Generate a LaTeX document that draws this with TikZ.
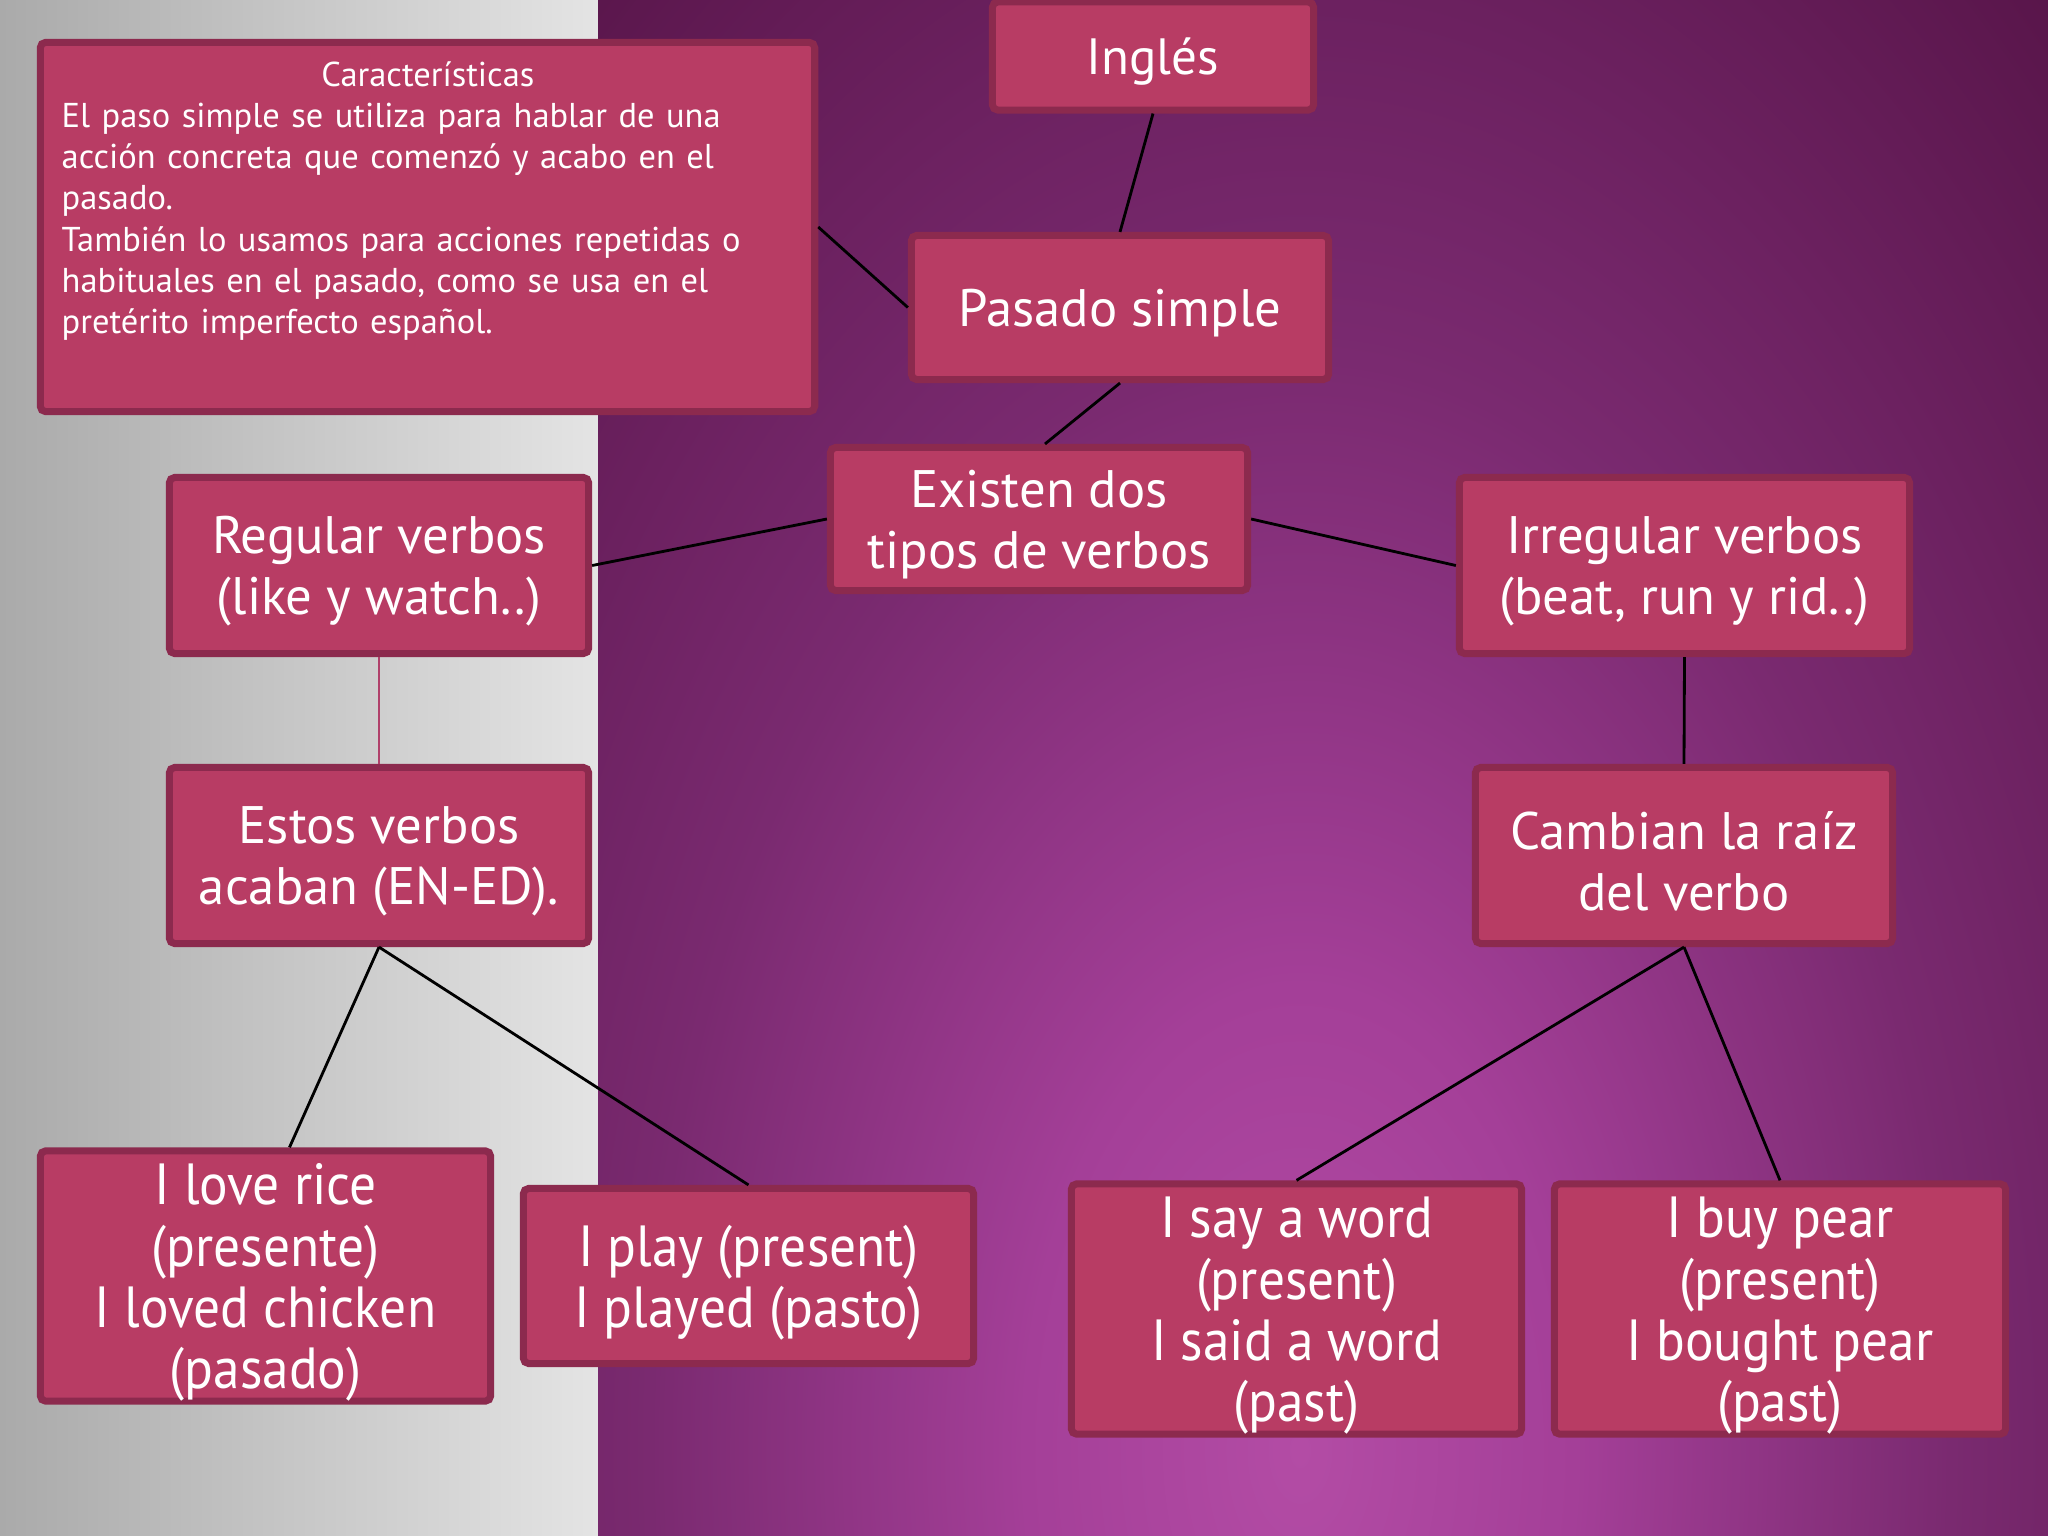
\documentclass[tikz,border=0pt]{standalone}
\usepackage{fontspec}
\setmainfont{PT Sans}
\newfontfamily\narrowf{PT Sans}[FakeStretch=0.92]
\usetikzlibrary{calc}
\newcommand\topstrut{\rule{0pt}{0.93em}}
\definecolor{boxfill}{HTML}{B83C64}
\definecolor{boxline}{HTML}{8C2A4E}
\definecolor{pl}{HTML}{B34CA5}
\definecolor{pl2}{HTML}{A43F98}
\definecolor{pm}{HTML}{7A2A70}
\definecolor{pd}{HTML}{551346}
\definecolor{pdd}{HTML}{440B37}
\definecolor{gl}{HTML}{AAAAAA}
\definecolor{gr}{HTML}{E4E4E4}
\definecolor{pinkline}{HTML}{B0406A}
\pgfdeclareradialshading{purpbg}{\pgfpoint{0bp}{0bp}}{color(0bp)=(pl); color(5.5bp)=(pl2); color(13bp)=(pm); color(24bp)=(pd); color(35bp)=(pdd); color(50bp)=(pdd)}
\tikzset{
  box/.style={draw=boxline, fill=boxfill, line width=2pt, rounded corners=1.5pt,
    inner sep=0pt, text=white, align=center, font=\fontsize{15}{17.4}\selectfont},
  nbox/.style={box, font=\narrowf\fontsize{16.5}{17.4}\selectfont},
  conn/.style={draw=black, line width=0.8pt},
  pconn/.style={draw=pinkline, line width=0.8pt}
}
\begin{document}
\begin{tikzpicture}[x=0.01cm,y=-0.01cm]
\useasboundingbox (0,0) rectangle (2048,1536);
% background
\shade[left color=gl, right color=gr] (0,0) rectangle (598,1536);
\begin{scope}
  \clip (598,0) rectangle (2048,1536);
  \fill[pdd] (598,0) rectangle (2048,1536);
  \shade[shading=purpbg] (1300,1450) ellipse[x radius=12.5cm, y radius=21cm];
\end{scope}

% nodes
\node[box, minimum width=7.74cm, minimum height=3.69cm] (carac) at (427.5,227) {};
\node[anchor=north west, text width=7.32cm, inner sep=0pt, align=left, text=white,
  font=\fontsize{9.8}{11.7}\selectfont] (caractext) at (61,61)
  {\makebox[7.32cm]{Características}\\
   El paso simple se utiliza para hablar de una\\
   acción concreta que comenzó y acabo en el\\
   pasado.\\
   También lo usamos para acciones repetidas o\\
   habituales en el pasado, como se usa en el\\
   pretérito imperfecto español.};

\node[box, minimum width=3.21cm, minimum height=1.08cm, font=\fontsize{14.5}{18}\selectfont] (ingles) at (1153,56) {\topstrut Inglés};
\node[box, minimum width=4.17cm, minimum height=1.44cm, font=\fontsize{15}{18}\selectfont] (pasado) at (1120,307.5) {\topstrut Pasado simple};
\node[box, minimum width=4.17cm, minimum height=1.43cm] (existen) at (1039,519) {\topstrut Existen dos\\tipos de verbos};
\node[box, minimum width=4.19cm, minimum height=1.76cm] (regular) at (379,565.5) {\topstrut Regular verbos\\(like y watch..)};
\node[box, minimum width=4.50cm, minimum height=1.76cm] (irregular) at (1684.5,565.5) {\topstrut Irregular verbos\\(beat, run y rid..)};
\node[box, minimum width=4.19cm, minimum height=1.76cm] (estos) at (379,855.5) {\topstrut Estos verbos\\acaban (EN-ED).};
\node[box, minimum width=4.17cm, minimum height=1.76cm] (cambian) at (1684,855.5) {\topstrut Cambian la raíz\\del verbo};
\node[nbox, minimum width=4.50cm, minimum height=2.41cm] (love) at (265.5,1276) {\topstrut I love rice\\(presente)\\I loved chicken\\(pasado)};
\node[nbox, minimum width=4.50cm, minimum height=1.75cm] (play) at (748.5,1276) {\topstrut I play (present)\\I played (pasto)};
\node[nbox, minimum width=4.50cm, minimum height=2.41cm] (say) at (1296.5,1309) {\topstrut I say a word\\(present)\\I said a word\\(past)};
\node[nbox, minimum width=4.51cm, minimum height=2.41cm] (buy) at (1780,1309) {\topstrut I buy pear\\(present)\\I bought pear\\(past)};

% connectors
\draw[conn] (ingles.south) -- (pasado.north);
\draw[conn] (carac.east) -- (pasado.west);
\draw[conn] (pasado.south) -- ($(existen.north)+(6,0)$);
\draw[conn] (existen.west) -- (regular.east);
\draw[conn] (existen.east) -- (irregular.west);
\draw[pconn] (regular.south) -- (estos.north);
\draw[conn] (irregular.south) -- (cambian.north);
\draw[conn] (estos.south) -- ($(love.north)+(24,0)$);
\draw[conn] (estos.south) -- (play.north);
\draw[conn] (cambian.south) -- (say.north);
\draw[conn] (cambian.south) -- (buy.north);
\end{tikzpicture}
\end{document}
